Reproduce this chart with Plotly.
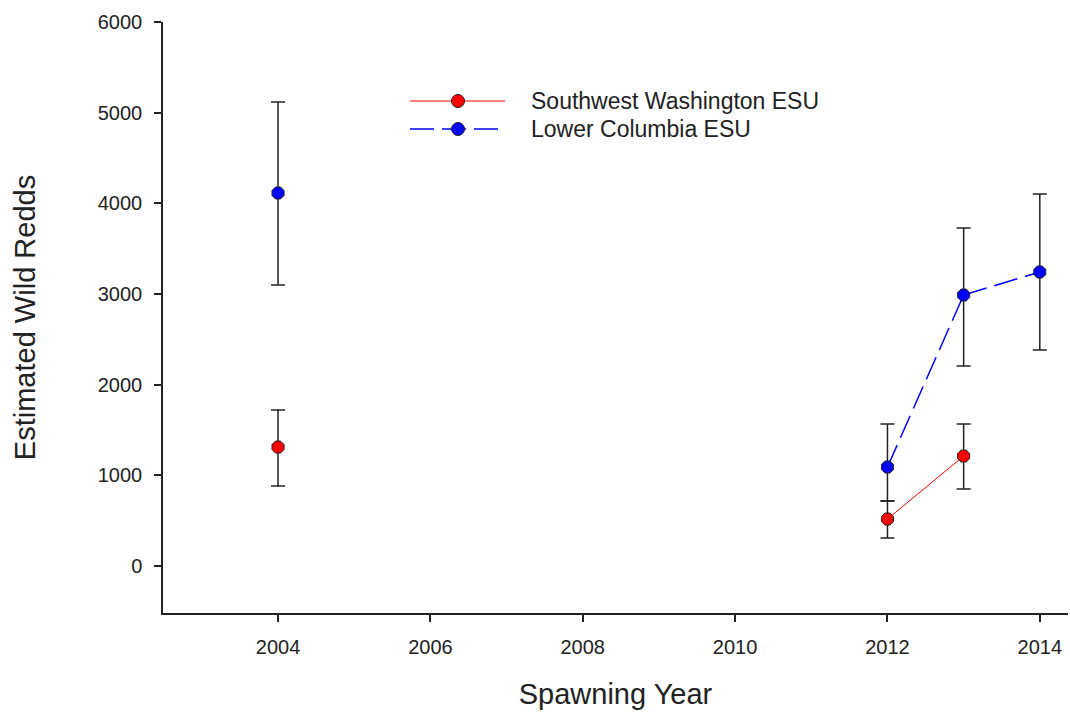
import plotly.graph_objects as go

# Data
sw_years = [2004, 2012, 2013]
sw_redds = [1312, 518, 1213]
sw_err_plus = [408, 199, 353]
sw_err_minus = [430, 209, 364]

lc_years = [2004, 2012, 2013, 2014]
lc_redds = [4114, 1092, 2989, 3243]
lc_err_plus = [1004, 474, 739, 860]
lc_err_minus = [1015, 375, 783, 861]

x_ticks = [2004, 2006, 2008, 2010, 2012, 2014]
y_ticks = [0, 1000, 2000, 3000, 4000, 5000, 6000]

series_names = ["Southwest Washington ESU", "Lower Columbia ESU"]
series_colors = ["#ff0000", "#0000ff"]


def consecutive_segments(years, vals):
    xs, ys = [], []
    for i in range(1, len(years)):
        if years[i] - years[i - 1] == 1:
            xs += [years[i - 1], years[i], None]
            ys += [vals[i - 1], vals[i], None]
    return xs, ys


fig = go.Figure()

FONT = "Liberation Sans, Arial, sans-serif"
TXT = "#222222"
DASH_LC = "24px,8px"

series = [
    (sw_years, sw_redds, sw_err_plus, sw_err_minus, series_colors[0], "solid", 1),
    (lc_years, lc_redds, lc_err_plus, lc_err_minus, series_colors[1], DASH_LC, 1.5),
]

for years, vals, ep, em, color, dash, lw in series:
    lx, ly = consecutive_segments(years, vals)
    fig.add_trace(go.Scatter(
        x=lx, y=ly, mode="lines", line=dict(color=color, width=lw, dash=dash),
        showlegend=False, hoverinfo="skip"))
    fig.add_trace(go.Scatter(
        x=years, y=vals, mode="markers",
        marker=dict(symbol="octagon", size=13, color=color, line=dict(color=TXT, width=1)),
        error_y=dict(type="data", symmetric=False, array=ep, arrayminus=em,
                     color=TXT, thickness=1.5, width=7),
        showlegend=False))

# Manual legend (pixel positions converted to paper coords)
L, T, W, H = 163, 22, 905, 591


def px_x(px):
    return (px - L) / W


def px_y(py):
    return (T + H - py) / H


legend_rows = [101, 129]
for i, (name, color, (_, _, _, _, _, dash, lw)) in enumerate(zip(series_names, series_colors, series)):
    yy = px_y(legend_rows[i])
    fig.add_shape(type="line", xref="paper", yref="paper",
                  x0=px_x(410), x1=px_x(505), y0=yy, y1=yy,
                  line=dict(color=color, width=lw, dash=dash))
    r = 6.5
    fig.add_shape(type="circle", xref="paper", yref="paper",
                  x0=px_x(458 - r), x1=px_x(458 + r), y0=px_y(legend_rows[i] + r), y1=px_y(legend_rows[i] - r),
                  fillcolor=color, line=dict(color=TXT, width=1))
    fig.add_annotation(xref="paper", yref="paper", x=px_x(529), y=yy, xanchor="left", yanchor="middle",
                       text=name, showarrow=False, font=dict(family=FONT, size=23, color=TXT))

axis_common = dict(
    showline=True, linecolor=TXT, linewidth=1.5, ticks="outside", ticklen=7,
    tickcolor=TXT, tickwidth=1.5, showgrid=False, zeroline=False,
    tickfont=dict(family=FONT, size=20, color=TXT),
)

fig.update_layout(
    width=1070, height=714,
    margin=dict(l=L, r=1070 - L - W, t=T, b=714 - T - H),
    paper_bgcolor="white", plot_bgcolor="white",
    xaxis=dict(range=[2002.49, 2014.37], tickvals=x_ticks, ticklabelstandoff=8,
               title=dict(text="Spawning Year", font=dict(family=FONT, size=29, color=TXT), standoff=27),
               **axis_common),
    yaxis=dict(range=[-518, 6000], tickvals=y_ticks, ticklabelstandoff=8,
               title=dict(text="Estimated Wild Redds", font=dict(family=FONT, size=29, color=TXT), standoff=54),
               **axis_common),
    showlegend=False,
)

fig.write_html("out.html")
